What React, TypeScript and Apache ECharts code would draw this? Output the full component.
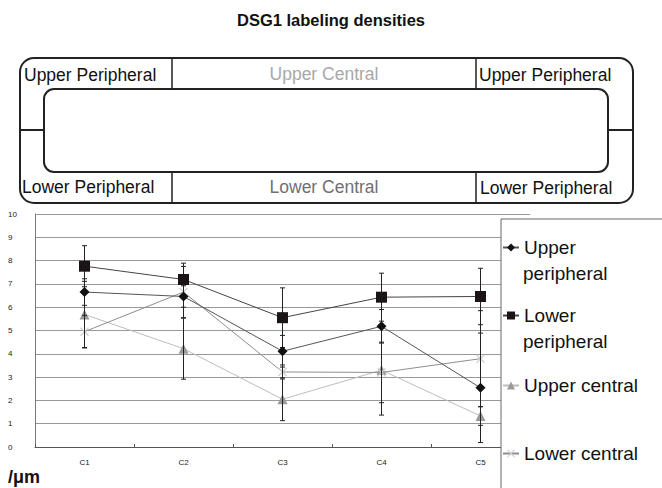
import React, { useEffect, useRef } from "react";
import * as echarts from "echarts";

const categories = ["C1", "C2", "C3", "C4", "C5"];
const upperPeripheral = [6.65, 6.46, 4.11, 5.18, 2.54];
const upperPeripheralErr = [0.57, 0.46, 0.68, 0.72, 2.35];
const lowerPeripheral = [7.76, 7.19, 5.55, 6.43, 6.46];
const lowerPeripheralErr = [0.88, 0.7, 1.28, 1.03, 1.21];
const upperCentral = [5.69, 4.22, 2.05, 3.3, 1.33];
const upperCentralErr = [1.42, 1.31, 0.92, 1.93, 0.4];
const lowerCentral = [4.95, 6.65, 3.22, 3.2, 3.79];
const lowerCentralErr = [0.7, 1.1, 0.3, 1.3, 2.06];
const yTicks = [0, 1, 2, 3, 4, 5, 6, 7, 8, 9, 10];

const FONT = "'Liberation Sans', Arial, sans-serif";
const X_SYMBOL =
  "path://M0,1 L1,0 L5,4 L9,0 L10,1 L6,5 L10,9 L9,10 L5,6 L1,10 L0,9 L4,5 Z";

function errData(vals: number[], errs: number[]) {
  return vals.map((v, i) => [i, v - errs[i], v + errs[i]]);
}

export default function App() {
  const ref = useRef<HTMLDivElement>(null);
  useEffect(() => {
    if (!ref.current) return;
    const chart = echarts.init(ref.current, undefined, { renderer: "svg" });

    const renderErr = (params: any, api: any) => {
      const x = api.value(0);
      const lo = api.coord([x, api.value(1)]);
      const hi = api.coord([x, api.value(2)]);
      const cap = 2.5;
      const style = { stroke: "#222", lineWidth: 1 };
      return {
        type: "group",
        children: [
          { type: "line", shape: { x1: lo[0], y1: lo[1], x2: hi[0], y2: hi[1] }, style },
          { type: "line", shape: { x1: lo[0] - cap, y1: lo[1], x2: lo[0] + cap, y2: lo[1] }, style },
          { type: "line", shape: { x1: hi[0] - cap, y1: hi[1], x2: hi[0] + cap, y2: hi[1] }, style },
        ],
      };
    };

    const legendCommon = {
      orient: "vertical",
      itemWidth: 16,
      itemHeight: 10,
      textStyle: { fontFamily: FONT, fontSize: 19, color: "#111" },
      selectedMode: false,
      padding: 0,
      z: 20,
      left: 502,
    };

    const sideText = (txt: string, x: number, y: number, color: string, align: string = "left") => ({
      type: "text",
      x,
      y,
      style: {
        text: txt,
        fill: color,
        font: `17.5px ${FONT}`,
        textAlign: align,
        textVerticalAlign: "middle",
      },
      z: 10,
    });

    const legendLine2 = (txt: string, y: number) => ({
      type: "text",
      x: 523,
      y,
      style: {
        text: txt,
        fill: "#111",
        font: `19px ${FONT}`,
        textVerticalAlign: "middle",
      },
      z: 20,
    });

    const option: any = {
      animation: false,
      backgroundColor: "#fff",
      title: {
        text: "DSG1 labeling densities",
        left: 331,
        top: 11,
        padding: 0,
        textAlign: "center",
        textStyle: { fontFamily: FONT, fontSize: 16.5, fontWeight: "bold", color: "#111" },
      },
      grid: { left: 35, top: 214, width: 495, height: 233 },
      xAxis: {
        type: "category",
        data: categories,
        boundaryGap: true,
        axisLine: { lineStyle: { color: "#555" } },
        axisTick: { show: true, inside: true, length: 3, alignWithLabel: false, lineStyle: { color: "#555" } },
        axisLabel: { fontFamily: FONT, fontSize: 8, color: "#222", margin: 11 },
      },
      yAxis: {
        type: "value",
        min: 0,
        max: 10,
        interval: 1,
        axisLine: { show: true, lineStyle: { color: "#777" } },
        axisTick: { show: false },
        axisLabel: {
          fontFamily: FONT,
          fontSize: 8,
          color: "#222",
          margin: 27,
          align: "left",
          formatter: (v: number) => (yTicks.includes(v) ? String(v) : ""),
        },
        splitLine: { lineStyle: { color: "#999", width: 1 } },
      },
      legend: [
        { ...legendCommon, data: ["Upper peripheral"], top: 238, formatter: () => "Upper" },
        { ...legendCommon, data: ["Lower peripheral"], top: 306, formatter: () => "Lower" },
        { ...legendCommon, data: ["Upper central"], top: 376 },
        { ...legendCommon, data: ["Lower central"], top: 444 },
      ],
      graphic: [
        {
          type: "rect",
          shape: { x: 20, y: 58, width: 613, height: 145, r: 14 },
          style: { fill: "#fff", stroke: "#222", lineWidth: 2 },
        },
        {
          type: "rect",
          shape: { x: 44, y: 89, width: 564, height: 83, r: 10 },
          style: { fill: "#fff", stroke: "#222", lineWidth: 2 },
        },
        { type: "line", shape: { x1: 172, y1: 58, x2: 172, y2: 89 }, style: { stroke: "#222", lineWidth: 1.5 } },
        { type: "line", shape: { x1: 476, y1: 58, x2: 476, y2: 89 }, style: { stroke: "#222", lineWidth: 1.5 } },
        { type: "line", shape: { x1: 172, y1: 172, x2: 172, y2: 203 }, style: { stroke: "#222", lineWidth: 1.5 } },
        { type: "line", shape: { x1: 476, y1: 172, x2: 476, y2: 203 }, style: { stroke: "#222", lineWidth: 1.5 } },
        { type: "line", shape: { x1: 20, y1: 130, x2: 44, y2: 130 }, style: { stroke: "#222", lineWidth: 2 } },
        { type: "line", shape: { x1: 608, y1: 130, x2: 633, y2: 130 }, style: { stroke: "#222", lineWidth: 2 } },
        sideText("Upper Peripheral", 24, 75, "#111"),
        sideText("Upper Central", 324, 74, "#a8a8a8", "center"),
        sideText("Upper Peripheral", 479, 75, "#111"),
        sideText("Lower Peripheral", 22, 187, "#111"),
        sideText("Lower Central", 324, 187, "#707070", "center"),
        sideText("Lower Peripheral", 480, 188, "#111"),
        {
          type: "rect",
          shape: { x: 501, y: 219, width: 200, height: 300 },
          style: { fill: "#fff", stroke: "#666", lineWidth: 1 },
          z: 5,
        },
        legendLine2("peripheral", 273),
        legendLine2("peripheral", 341),
        {
          type: "text",
          x: 8,
          y: 477,
          style: {
            text: "/μm",
            fill: "#111",
            font: `bold 18px ${FONT}`,
            textVerticalAlign: "middle",
          },
        },
      ],
      series: [
        {
          name: "Upper peripheral",
          type: "line",
          data: upperPeripheral,
          symbol: "diamond",
          symbolSize: 10,
          itemStyle: { color: "#111" },
          lineStyle: { color: "#555", width: 1 },
          z: 4,
        },
        {
          name: "Lower peripheral",
          type: "line",
          data: lowerPeripheral,
          symbol: "rect",
          symbolSize: 11,
          itemStyle: { color: "#1a1414" },
          lineStyle: { color: "#444", width: 1 },
          z: 4,
        },
        {
          name: "Upper central",
          type: "line",
          data: upperCentral,
          symbol: "triangle",
          symbolSize: 10,
          itemStyle: { color: "#9a9a9a" },
          lineStyle: { color: "#bdbdbd", width: 1 },
          z: 3,
        },
        {
          name: "Lower central",
          type: "line",
          data: lowerCentral,
          symbol: X_SYMBOL,
          symbolSize: 9,
          itemStyle: { color: "#cfcfcf" },
          lineStyle: { color: "#8e8e8e", width: 1 },
          z: 3,
        },
        ...[
          errData(upperPeripheral, upperPeripheralErr),
          errData(lowerPeripheral, lowerPeripheralErr),
          errData(upperCentral, upperCentralErr),
          errData(lowerCentral, lowerCentralErr),
        ].map((d) => ({
          type: "custom",
          renderItem: renderErr,
          data: d,
          encode: { x: 0, y: [1, 2] },
          z: 4,
          silent: true,
        })),
      ],
    };
    chart.setOption(option);
    return () => chart.dispose();
  }, []);
  return (
    <div
      ref={ref}
      style={{ position: "fixed", left: 0, top: 0, width: 662, height: 488, background: "#fff" }}
    />
  );
}
